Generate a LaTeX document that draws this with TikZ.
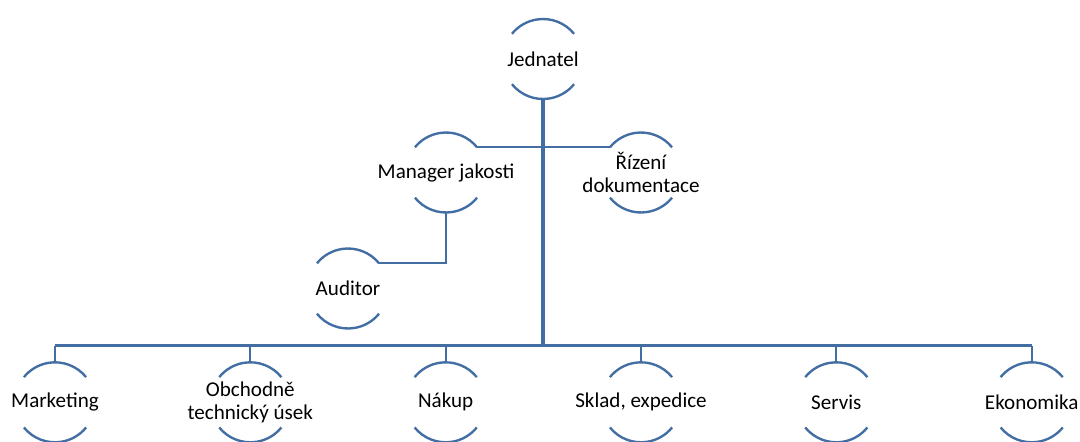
\documentclass[tikz,border=0pt]{standalone}
\usepackage{fontspec}
\setmainfont{Carlito}
\definecolor{orgblue}{RGB}{66,110,164}
\newcommand\ringr{0.8cm}
% one member of the chart: an invisible ring node, its label and two arcs
\newcommand\member[3]{%
  \node[ring] (#1) at (#2) {};
  \node[member text] (#1-t) at (#2) {#3};
  \draw[ring line] (#1.39) arc[start angle=39,end angle=141,radius=\ringr];
  \draw[ring line] (#1.219) arc[start angle=219,end angle=321,radius=\ringr];
}
\begin{document}
\begin{tikzpicture}[x=0.02cm,y=0.02cm,
  ring/.style={circle,minimum size=1.6cm,inner sep=0pt,outer sep=0pt,draw=none},
  member text/.style={align=center,inner sep=0pt,font=\fontsize{12}{13}\selectfont},
  ring line/.style={draw=orgblue,line width=1.35pt},
  link/.style={draw=orgblue,line width=1.3pt},
  trunk/.style={draw=orgblue,line width=1.9pt}]
\useasboundingbox (0,0) rectangle (1080,441);
\clip (0,0) rectangle (1080,441);

\member{J}{543,382}{Jednatel}
\member{M}{446,268.5}{Manager jakosti}
\member{R}{641,268.5}{Řízení\\dokumentace}
\member{A}{348,152.5}{Auditor}

\member{b1}{55,38.7}{Marketing}
\member{b2}{250.3,38.7}{Obchodně\\technický úsek}
\member{b3}{445.7,38.7}{Nákup}
\member{b4}{641,38.7}{Sklad, expedice}
\member{b5}{836.3,38.7}{Servis}
\member{b6}{1031.7,38.7}{Ekonomika}

\coordinate (bus) at (543,95.5);

% assistants and the auditor
\draw[link] (M.39) -- (R.141);
\draw[link] (M.south) |- (A.39);

% trunk and the bus to the departments
\draw[trunk] (J.south) -- (bus);
\draw[link] (b1.north |- bus) -- (b6.north |- bus);
\foreach \n in {b1,b2,b3,b4,b5,b6}
  \draw[link] (\n.north) -- (\n.north |- bus);
\end{tikzpicture}
\end{document}
